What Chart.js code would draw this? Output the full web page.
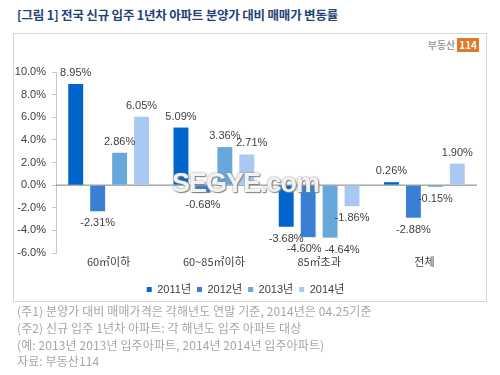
<!DOCTYPE html>
<html>
<head>
<meta charset="utf-8">
<script src="https://cdn.jsdelivr.net/npm/chart.js@4"></script>
<style>
  body { margin: 0; width: 500px; height: 375px; background: #fff; position: relative; overflow: hidden; font-family: "Noto Sans CJK KR", "Liberation Sans", sans-serif; }
  #title { position: absolute; left: 17px; top: 5px; font-size: 12.5px; font-weight: bold; color: #1f4378; letter-spacing: -0.2px; white-space: nowrap; }
  #box { position: absolute; left: 13px; top: 33px; width: 472px; height: 267px; border: 1px solid #d6d6d6; }
  #chartWrap { position: absolute; left: 0; top: 0; width: 472px; height: 271px; }
  #logo { position: absolute; right: 7px; top: 3px; font-size: 10px; font-weight: bold; color: #a0a0a0; white-space: nowrap; }
  #logo span { display: inline-block; background: #e07a2a; color: #fff; padding: 0 2px; margin-left: 2px; font-size: 10px; line-height: 14px; }
  #mark { position: absolute; left: 172px; top: 168px; font-family: "Liberation Sans", sans-serif; font-weight: bold; font-size: 27px; color: rgba(255,255,255,0.9); text-shadow: 0 0 2px #777, 1px 1px 1px #888; letter-spacing: -1px; }
  .note { position: absolute; left: 17px; font-size: 12px; color: #a6a6a6; white-space: nowrap; letter-spacing: 0.1px; }
</style>
</head>
<body>
<div id="title">[그림 1] 전국 신규 입주 1년차 아파트 분양가 대비 매매가 변동률</div>
<div id="box">
  <div id="chartWrap"><canvas id="rateChart" width="472" height="271"></canvas></div>
  <div id="logo">부동산<span>114</span></div>
</div>
<div id="mark">SEGYE.com</div>
<div class="note" style="top:302px">(주1) 분양가 대비 매매가격은 각해년도 연말 기준, 2014년은 04.25기준</div>
<div class="note" style="top:319px">(주2) 신규 입주 1년차 아파트: 각 해년도 입주 아파트 대상</div>
<div class="note" style="top:336px">(예: 2013년 2013년 입주아파트, 2014년 2014년 입주아파트)</div>
<div class="note" style="top:352px">자료: 부동산114</div>

<script>
const categories = ["60㎡이하", "60~85㎡이하", "85㎡초과", "전체"];
const years = ["2011년", "2012년", "2013년", "2014년"];
const rate2011 = [8.95, 5.09, -3.68, 0.26];
const rate2012 = [-2.31, -0.68, -4.60, -2.88];
const rate2013 = [2.86, 3.36, -4.64, -0.15];
const rate2014 = [6.05, 2.71, -1.86, 1.90];
const yTicks = [-6, -4, -2, 0, 2, 4, 6, 8, 10];

const colors = ["#0066cc", "#3a7fd4", "#66a8dc", "#a9c9f3"];
const allRates = [rate2011, rate2012, rate2013, rate2014];

// zero line under the bars
const zeroLine = {
  id: "zeroLine",
  beforeDatasetsDraw: (chart) => {
    const ctx = chart.ctx;
    const y = chart.scales.y.getPixelForValue(0);
    ctx.save();
    ctx.beginPath();
    ctx.moveTo(chart.chartArea.left, y);
    ctx.lineTo(chart.chartArea.right, y);
    ctx.lineWidth = 1;
    ctx.strokeStyle = "#7f7f7f";
    ctx.stroke();
    ctx.restore();
  },
};

// value labels, a couple nudged sideways like the original
const valueLabels = {
  id: "valueLabels",
  afterDatasetsDraw: (chart) => {
    const ctx = chart.ctx;
    ctx.save();
    ctx.font = "11px 'Liberation Sans', sans-serif";
    ctx.fillStyle = "#404040";
    ctx.textAlign = "center";
    ctx.textBaseline = "middle";
    chart.data.datasets.forEach((ds, di) => {
      const meta = chart.getDatasetMeta(di);
      meta.data.forEach((bar, i) => {
        const v = ds.data[i];
        let dx = 0;
        if (di === 1 && i === 2) dx = -4;
        if (di === 2 && i === 2) dx = 12;
        if (di === 3 && i === 1) dx = 5;
        const y = v >= 0 ? bar.y - 11 : bar.y + 12;
        ctx.fillText(v.toFixed(2) + "%", bar.x + dx, y);
      });
    });
    ctx.restore();
  },
};

const ctx = document.getElementById("rateChart").getContext("2d");
new Chart(ctx, {
  type: "bar",
  data: {
    labels: categories,
    datasets: years.map((yr, k) => ({
      label: yr,
      data: allRates[k],
      backgroundColor: colors[k],
      borderWidth: 0,
      categoryPercentage: 0.834,
      barPercentage: 0.68,
    })),
  },
  plugins: [zeroLine, valueLabels],
  options: {
    responsive: false,
    animation: false,
    layout: { padding: { top: 38, right: 9, bottom: 0, left: 0 } },
    plugins: {
      tooltip: { enabled: false },
      legend: {
        position: "bottom",
        labels: {
          boxWidth: 5,
          boxHeight: 5,
          padding: 6,
          color: "#404040",
          font: { size: 11, family: "'Liberation Sans', 'Noto Sans CJK KR', sans-serif" },
        },
      },
    },
    scales: {
      y: {
        min: -6,
        max: 10,
        afterBuildTicks: (scale) => {
          scale.ticks = yTicks.map((v) => ({ value: v }));
        },
        afterFit: (scale) => {
          scale.width = 42;
        },
        border: { display: true, color: "#c8c8c8" },
        grid: { drawOnChartArea: false, drawTicks: true, tickLength: 4, color: "#c8c8c8" },
        ticks: {
          padding: 6,
          color: "#404040",
          font: { size: 11, family: "'Liberation Sans', sans-serif" },
          callback: (v) => v.toFixed(1) + "%",
        },
      },
      x: {
        afterFit: (scale) => {
          scale.height = 25;
        },
        border: { display: false },
        grid: { display: false, drawTicks: false, tickLength: 0 },
        ticks: {
          padding: 2,
          color: "#404040",
          font: { size: 11, family: "'Noto Sans CJK KR', sans-serif" },
        },
      },
    },
  },
});
</script>
</body>
</html>
